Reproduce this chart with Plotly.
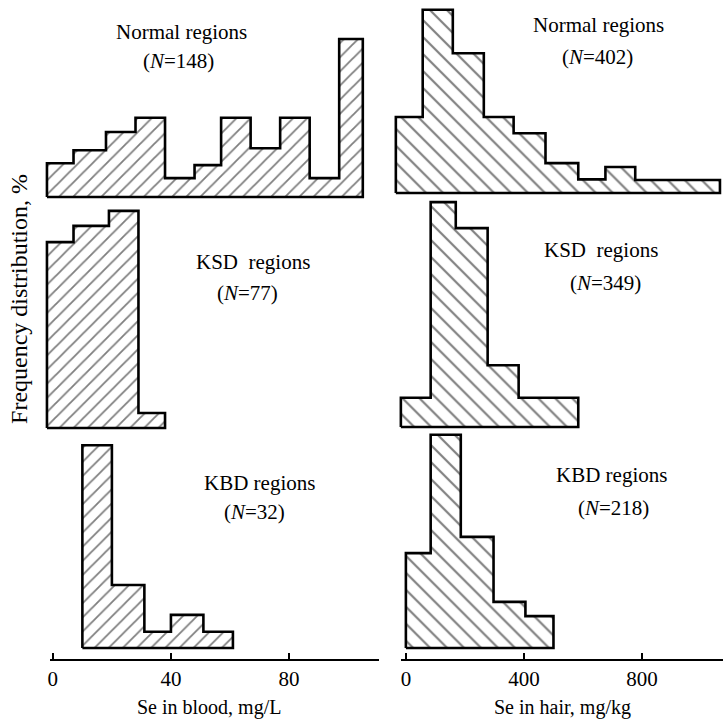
import plotly.graph_objects as go

# ---------------- data ----------------
region_names = ["Normal regions", "KSD  regions", "KBD regions"]
blood_n = [148, 77, 32]
hair_n = [402, 349, 218]

# Se in blood, mg/L : bin edges and frequency (%)
blood_normal_edges = [-2, 7, 18, 28, 38, 48, 57, 67, 77, 87, 97, 105]
blood_normal_freq = [5.2, 7.2, 10.0, 12.2, 2.9, 4.9, 12.2, 7.5, 12.2, 2.9, 24.3]
blood_ksd_edges = [-2, 7, 19, 29, 38]
blood_ksd_freq = [28.6, 31.1, 33.4, 2.3]
blood_kbd_edges = [10, 20, 31, 40, 51, 61]
blood_kbd_freq = [31.2, 9.7, 2.5, 5.1, 2.5]

# Se in hair, mg/kg : bin edges and frequency (%)
hair_normal_edges = [-34, 57, 159, 264, 365, 473, 584, 676, 777, 1064]
hair_normal_freq = [11.7, 28.2, 21.5, 11.7, 9.2, 4.6, 2.1, 4.0, 2.0]
hair_ksd_edges = [-17, 84, 169, 277, 382, 584]
hair_ksd_freq = [4.5, 34.6, 30.6, 9.5, 4.5]
hair_kbd_edges = [0, 84, 186, 297, 405, 500]
hair_kbd_freq = [14.6, 32.8, 17.1, 7.1, 4.9]

blood_ticks = [0, 40, 80]
hair_ticks = [0, 400, 800]
blood_title = "Se in blood, mg/L"
hair_title = "Se in hair, mg/kg"
y_title = "Frequency distribution, %"

# ---------------- layout geometry (pixels) ----------------
W, H = 723, 719
FONT = "Liberation Serif"
PPU_Y = 6.5  # px per %
cols = {
    "blood": dict(zero=51, ppu=2.96, pattern="/", psize=10),
    "hair": dict(zero=405, ppu=0.296, pattern="\\", psize=12),
}
# (column, edges, freq, x0px, x1px, ytop_px, baseline_px, ybottom_px, bottom_axis)
panels = [
    ("blood", blood_normal_edges, blood_normal_freq, 40, 378, 30, 197, 201, False),
    ("blood", blood_ksd_edges, blood_ksd_freq, 40, 378, 205, 428, 432, False),
    ("blood", blood_kbd_edges, blood_kbd_freq, 48, 378, 438, 648, 659, True),
    ("hair", hair_normal_edges, hair_normal_freq, 390, 723, 5, 193, 197, False),
    ("hair", hair_ksd_edges, hair_ksd_freq, 390, 723, 200, 427, 430, False),
    ("hair", hair_kbd_edges, hair_kbd_freq, 400, 723, 432, 648, 659, True),
]

fig = go.Figure()
layout = {}
for i, (key, edges, freq, x0, x1, yt, yb, ybot, bottom) in enumerate(panels):
    n = i + 1
    c = cols[key]
    xa = "x" if n == 1 else f"x{n}"
    ya = "y" if n == 1 else f"y{n}"
    centers = [(edges[k] + edges[k + 1]) / 2 for k in range(len(freq))]
    widths = [edges[k + 1] - edges[k] for k in range(len(freq))]
    fig.add_trace(go.Bar(
        x=centers, y=freq, width=widths, xaxis=xa, yaxis=ya,
        marker=dict(color="white", line=dict(width=0),
                    pattern=dict(shape=c["pattern"], fgcolor="black", bgcolor="white",
                                 size=c["psize"], solidity=0.18)),
        showlegend=False, hoverinfo="skip"))
    ox, oy = [edges[0]], [0]
    for k in range(len(freq)):
        ox += [edges[k], edges[k + 1]]
        oy += [freq[k], freq[k]]
    ox += [edges[-1], edges[0]]
    oy += [0, 0]
    fig.add_trace(go.Scatter(x=ox, y=oy, mode="lines", xaxis=xa, yaxis=ya,
                             line=dict(color="black", width=2.6),
                             showlegend=False, hoverinfo="skip"))
    xr = [(x0 - c["zero"]) / c["ppu"], (x1 - c["zero"]) / c["ppu"]]
    yr = [-(ybot - yb) / PPU_Y, (yb - yt) / PPU_Y]
    xkey = "xaxis" if n == 1 else f"xaxis{n}"
    ykey = "yaxis" if n == 1 else f"yaxis{n}"
    xd = dict(domain=[x0 / W, x1 / W], range=xr, anchor=ya, showgrid=False,
              zeroline=False, fixedrange=True)
    if bottom:
        ticks = blood_ticks if key == "blood" else hair_ticks
        xd.update(showline=True, linecolor="black", linewidth=1.5, ticks="inside",
                  ticklen=6, tickwidth=1.5, tickcolor="black", tickvals=ticks,
                  ticktext=[str(t) for t in ticks], ticklabelstandoff=0,
                  tickfont=dict(family=FONT, size=21, color="black"))
    else:
        xd.update(visible=False)
    layout[xkey] = xd
    layout[ykey] = dict(domain=[1 - ybot / H, 1 - yt / H], range=yr, anchor=xa,
                        visible=False, fixedrange=True)

annotations = []
def ann(text, xpx, ypx, size=21, angle=0):
    annotations.append(dict(text=text, x=xpx / W, y=1 - ypx / H, xref="paper", yref="paper",
                            showarrow=False, xanchor="center", yanchor="middle",
                            textangle=angle, font=dict(family=FONT, size=size, color="black")))

blood_label_pos = [(180, 32, 177, 61), (252, 262, 246, 293), (258, 483, 253, 512)]
hair_label_pos = [(598, 25, 597, 57), (601, 250, 605, 283), (611, 475, 613, 508)]
for k in range(3):
    a, b, c2, d = blood_label_pos[k]
    ann(region_names[k], a, b)
    ann(f"(<i>N</i>={blood_n[k]})", c2, d)
    a, b, c2, d = hair_label_pos[k]
    ann(region_names[k], a, b)
    ann(f"(<i>N</i>={hair_n[k]})", c2, d)

ann(blood_title, 208, 707, size=20)
ann(hair_title, 562, 707, size=20)
ann(y_title, 17, 299, size=24, angle=-90)

fig.update_layout(width=W, height=H, margin=dict(l=0, r=0, t=0, b=0),
                  paper_bgcolor="white", plot_bgcolor="rgba(0,0,0,0)",
                  barmode="overlay", bargap=0, annotations=annotations, **layout)
fig.write_html("out.html", config={"displayModeBar": False},
               post_script="document.body.style.margin='0';document.body.style.overflow='hidden';")
